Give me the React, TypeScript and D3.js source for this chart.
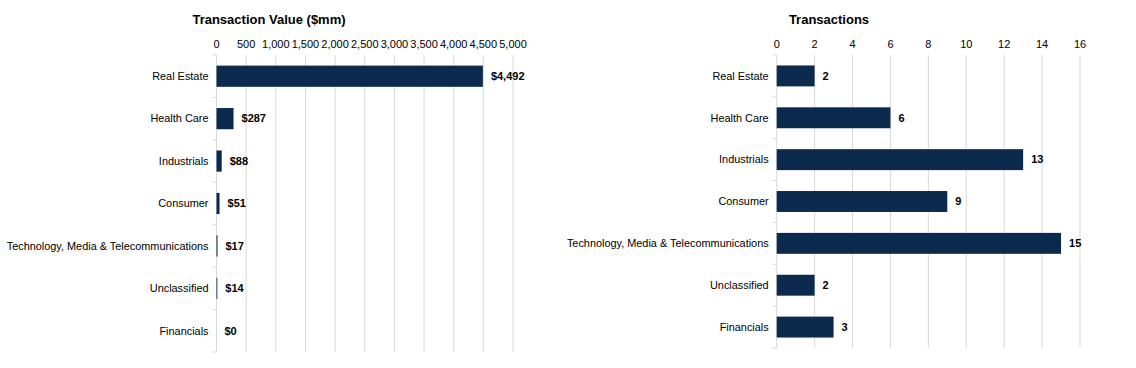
import React from "react";
import * as d3 from "d3";

const categories = [
  "Real Estate",
  "Health Care",
  "Industrials",
  "Consumer",
  "Technology, Media & Telecommunications",
  "Unclassified",
  "Financials",
];
const transactionValues = [4492, 287, 88, 51, 17, 14, 0];
const transactionCounts = [2, 6, 13, 9, 15, 2, 3];
const valueTicks = [0, 500, 1000, 1500, 2000, 2500, 3000, 3500, 4000, 4500, 5000];
const countTicks = [0, 2, 4, 6, 8, 10, 12, 14, 16];

const W = 1136;
const H = 368;
const BAR = "#0b2a4e";
const GRID = "#d9d9d9";
const FONT = "'Liberation Sans', Arial, sans-serif";

type PanelProps = {
  title: string;
  titleX: number;
  x0: number;
  x1: number;
  bottom: number;
  domainMax: number;
  ticks: number[];
  values: number[];
  tickFmt: (v: number) => string;
  labelFmt: (v: number) => string;
};

function Panel({ title, titleX, x0, x1, bottom, domainMax, ticks, values, tickFmt, labelFmt }: PanelProps) {
  const top = 55;
  const x = d3.scaleLinear().domain([0, domainMax]).range([x0, x1]);
  const y = d3.scaleBand<string>().domain(categories).range([top, bottom]).paddingInner(0.5).paddingOuter(0.25);
  const band = d3.scaleBand<string>().domain(categories).range([top, bottom]);
  const boundaries = categories.map((c) => band(c) as number).concat([bottom]);
  return (
    <g fontFamily={FONT}>
      <text x={titleX} y={24} fontSize={13} fontWeight="bold" fill="#000" textAnchor="middle">
        {title}
      </text>
      {ticks.map((t) => (
        <g key={t}>
          {t !== 0 && (
            <line x1={x(t)} x2={x(t)} y1={top} y2={bottom} stroke={GRID} strokeWidth={1} />
          )}
          <text x={x(t)} y={48} fontSize={11} textAnchor="middle" fill="#000">
            {tickFmt(t)}
          </text>
        </g>
      ))}
      <line x1={x(0)} x2={x(0)} y1={top} y2={bottom} stroke={GRID} strokeWidth={1} />
      {boundaries.map((b, i) => (
        <line key={i} x1={x(0) - 4} x2={x(0)} y1={b} y2={b} stroke={GRID} strokeWidth={1} />
      ))}
      {categories.map((c, i) => {
        const yy = y(c) as number;
        const bh = y.bandwidth();
        const cy = (band(c) as number) + band.bandwidth() / 2;
        return (
          <g key={c}>
            <rect x={x(0)} y={yy} width={Math.max(0, x(values[i]) - x(0))} height={bh} fill={BAR} />
            <text x={x(0) - 8} y={cy} dy="0.35em" fontSize={10.9} textAnchor="end" fill="#000">
              {c}
            </text>
            <text x={x(values[i]) + 8} y={cy} dy="0.35em" fontSize={11} fontWeight="bold" fill="#000">
              {labelFmt(values[i])}
            </text>
          </g>
        );
      })}
    </g>
  );
}

export default function App() {
  const comma = d3.format(",");
  return (
    <svg
      width={W}
      height={H}
      viewBox={`0 0 ${W} ${H}`}
      style={{ position: "absolute", left: 0, top: 0, background: "#fff" }}
    >
      <Panel
        title="Transaction Value ($mm)"
        titleX={269}
        x0={216.5}
        x1={513}
        bottom={352}
        domainMax={5000}
        ticks={valueTicks}
        values={transactionValues}
        tickFmt={(v) => comma(v)}
        labelFmt={(v) => "$" + comma(v)}
      />
      <Panel
        title="Transactions"
        titleX={829}
        x0={776.7}
        x1={1080}
        bottom={348}
        domainMax={16}
        ticks={countTicks}
        values={transactionCounts}
        tickFmt={(v) => String(v)}
        labelFmt={(v) => String(v)}
      />
    </svg>
  );
}
